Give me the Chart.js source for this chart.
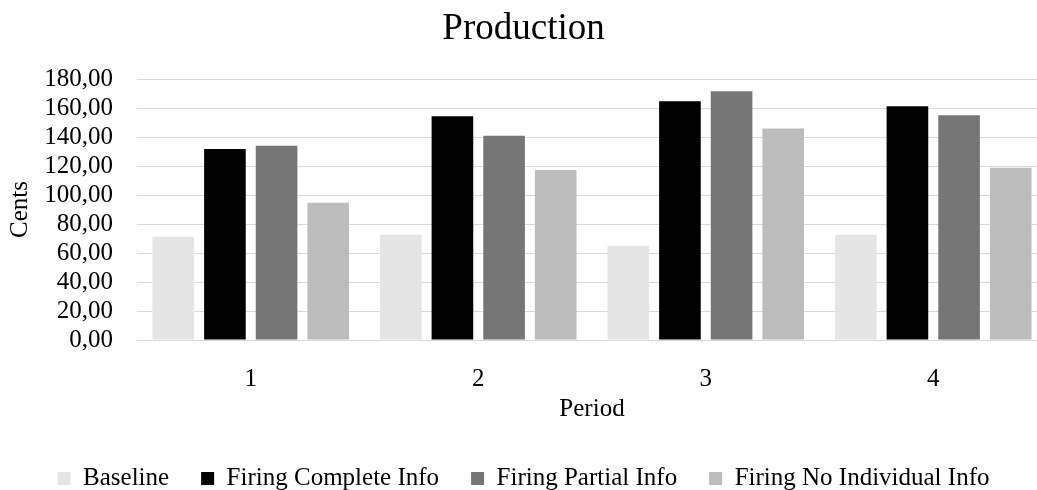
<!DOCTYPE html>
<html>
<head>
<meta charset="utf-8">
<title>Production</title>
<script src="https://cdn.jsdelivr.net/npm/chart.js@4"></script>
<style>
  html, body { margin: 0; padding: 0; background: #fff; overflow: hidden; }
  #wrap { position: relative; width: 1047px; height: 501px; }
</style>
</head>
<body>
<div id="wrap"><canvas id="productionChart"></canvas></div>
<script>
// chart data
const periods = ["1", "2", "3", "4"];
const baseline = [71.2, 72.6, 65.0, 72.6];
const firingComplete = [131.7, 154.3, 164.6, 161.2];
const firingPartial = [134.0, 140.8, 171.5, 155.0];
const firingNoIndividual = [94.6, 117.2, 145.8, 118.8];
const yTicks = [0, 20, 40, 60, 80, 100, 120, 140, 160, 180];

const FONT = "'Liberation Serif', 'Times New Roman', serif";

function fmt(v) {
  return Number(v).toFixed(2).replace(".", ",");
}

const ctx = document.getElementById("productionChart");

new Chart(ctx, {
  type: "bar",
  data: {
    labels: periods,
    datasets: [
      { label: "Baseline", data: baseline, backgroundColor: "#e5e5e5" },
      { label: "Firing Complete Info", data: firingComplete, backgroundColor: "#000000" },
      { label: "Firing Partial Info", data: firingPartial, backgroundColor: "#767676" },
      { label: "Firing No Individual Info", data: firingNoIndividual, backgroundColor: "#bcbcbc" }
    ]
  },
  options: {
    responsive: true,
    maintainAspectRatio: false,
    animation: false,
    datasets: {
      bar: { barPercentage: 0.806, categoryPercentage: 0.908 }
    },
    layout: { padding: 0 },
    plugins: {
      title: {
        display: true,
        text: "Production",
        color: "#000",
        font: { family: FONT, size: 37, weight: "normal" },
        padding: { top: 7, bottom: 27.6 }
      },
      legend: {
        position: "bottom",
        labels: {
          color: "#000",
          font: { family: FONT, size: 25 },
          boxWidth: 13,
          boxHeight: 13,
          padding: 32
        }
      },
      tooltip: { enabled: false }
    },
    scales: {
      x: {
        grid: { display: false },
        border: { display: true, color: "#d9d9d9", width: 1 },
        ticks: {
          color: "#000",
          font: { family: FONT, size: 25 },
          padding: 16
        },
        title: {
          display: true,
          text: "Period",
          color: "#000",
          font: { family: FONT, size: 25 },
          padding: { top: 0, bottom: 10 }
        },
        afterFit: scale => { scale.height = 94; }
      },
      y: {
        min: 0,
        max: 180,
        afterBuildTicks: scale => {
          scale.ticks = yTicks.map(v => ({ value: v }));
        },
        grid: { color: "#d9d9d9", lineWidth: 1, drawTicks: false },
        border: { display: false },
        ticks: {
          autoSkip: false,
          color: "#000",
          font: { family: FONT, size: 25 },
          padding: 24,
          callback: v => fmt(v)
        },
        title: {
          display: true,
          text: "Cents",
          color: "#000",
          font: { family: FONT, size: 25 },
          padding: { top: 5, bottom: 0 }
        },
        afterFit: scale => { scale.width = 137; }
      }
    }
  }
});
</script>
</body>
</html>
